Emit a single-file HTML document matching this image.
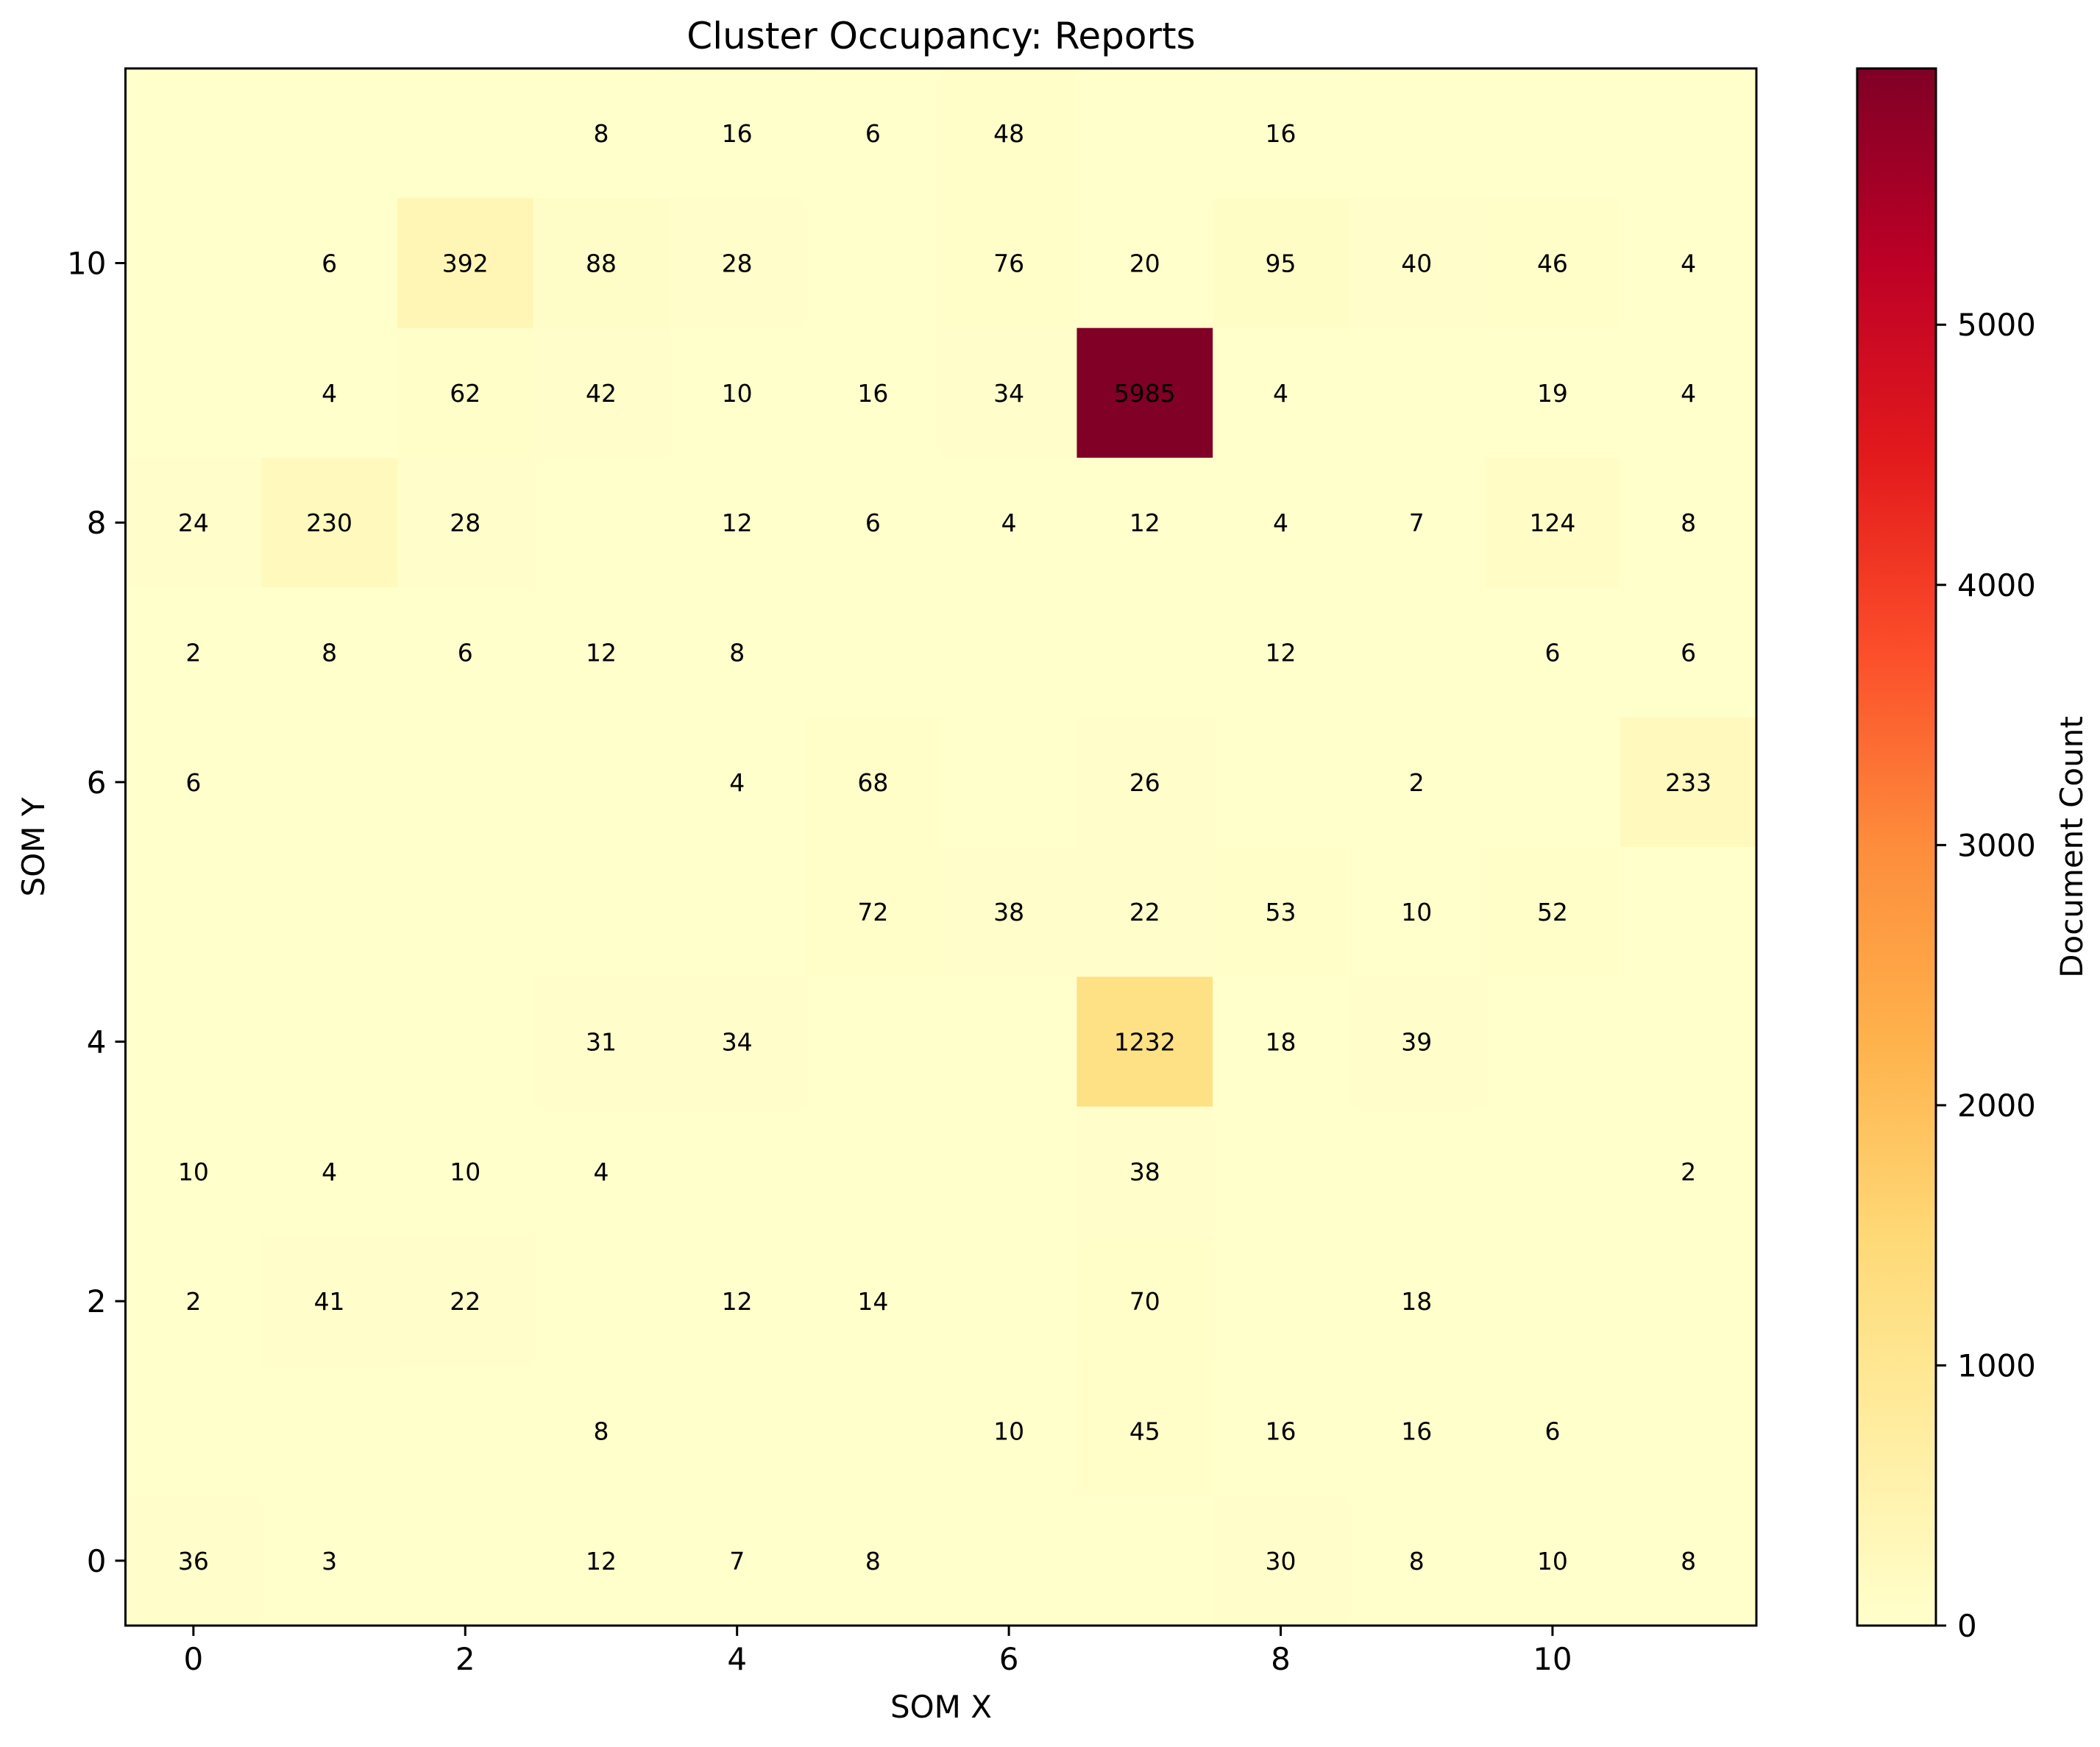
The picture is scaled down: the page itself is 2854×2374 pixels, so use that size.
<!DOCTYPE html>
<html><head><meta charset="utf-8"><style>
html,body{margin:0;padding:0;background:#fff;}
svg text{font-family:"DejaVu Sans","Liberation Sans",sans-serif;}
</style></head><body>
<svg id="chart" xmlns="http://www.w3.org/2000/svg" width="2854" height="2369" viewBox="0 0 2854 2369">
<defs><linearGradient id="cb" x1="0" y1="1" x2="0" y2="0">
<stop offset="0" stop-color="#ffffcc"/><stop offset="0.125" stop-color="#ffeda0"/><stop offset="0.25" stop-color="#fed976"/><stop offset="0.375" stop-color="#feb24c"/><stop offset="0.5" stop-color="#fd8d3c"/><stop offset="0.625" stop-color="#fc4e2a"/><stop offset="0.75" stop-color="#e31a1c"/><stop offset="0.875" stop-color="#bd0026"/><stop offset="1" stop-color="#800026"/>
</linearGradient></defs>
<g id="cells"></g>
<g id="labels"></g>
<rect x="170.5" y="93" width="2216.5" height="2116" fill="none" stroke="#000" stroke-width="3"/>
<g id="axes"></g>
<text x="1279" y="66" font-size="50" text-anchor="middle">Cluster Occupancy: Reports</text>
<text x="1279" y="2334" font-size="42" text-anchor="middle">SOM X</text>
<text x="60" y="1151" font-size="42" text-anchor="middle" transform="rotate(-90 60 1151)">SOM Y</text>
<rect x="2524" y="93" width="107" height="2116" fill="url(#cb)" stroke="#000" stroke-width="3"/>
<g id="cbaxis"></g>
<text x="2830" y="1151" font-size="42" text-anchor="middle" transform="rotate(-90 2830 1151)">Document Count</text>
</svg>
<script>
// rows from y=11 (top) down to y=0; 0 = empty
const rowY = [11,10,9,8,7,6,5,4,3,2,1,0];
const counts = [
[0,0,0,8,16,6,48,0,16,0,0,0],
[0,6,392,88,28,0,76,20,95,40,46,4],
[0,4,62,42,10,16,34,5985,4,0,19,4],
[24,230,28,0,12,6,4,12,4,7,124,8],
[2,8,6,12,8,0,0,0,12,0,6,6],
[6,0,0,0,4,68,0,26,0,2,0,233],
[0,0,0,0,0,72,38,22,53,10,52,0],
[0,0,0,31,34,0,0,1232,18,39,0,0],
[10,4,10,4,0,0,0,38,0,0,0,2],
[2,41,22,0,12,14,0,70,0,18,0,0],
[0,0,0,8,0,0,10,45,16,16,6,0],
[36,3,0,12,7,8,0,0,30,8,10,8]
];
const xTicks = [0,2,4,6,8,10];
const yTicks = [0,2,4,6,8,10];
const cbTicks = [0,1000,2000,3000,4000,5000];

const NS="http://www.w3.org/2000/svg";
const L=170.5,T=93,W=2216.5,H=2116,N=12;
const cw=W/N,ch=H/N;
let vmax=0;counts.forEach(r=>r.forEach(v=>{if(v>vmax)vmax=v;}));
const xs=i=>L+(i+0.5)*cw;
const ys=y=>T+(11-y+0.5)*ch;
const stops=["#ffffcc","#ffeda0","#fed976","#feb24c","#fd8d3c","#fc4e2a","#e31a1c","#bd0026","#800026"].map(h=>[1,3,5].map(k=>parseInt(h.substr(k,2),16)));
function cmap(t){t=Math.max(0,Math.min(1,t))*8;const i=Math.min(7,Math.floor(t)),f=t-i;const a=stops[i],b=stops[i+1];return "rgb("+a.map((v,k)=>Math.round(v+(b[k]-v)*f)).join(",")+")";}
function el(tag,attrs,parent,txt){const e=document.createElementNS(NS,tag);for(const k in attrs)e.setAttribute(k,attrs[k]);if(txt!==undefined)e.textContent=txt;parent.appendChild(e);return e;}
const gc=document.getElementById('cells'),gl=document.getElementById('labels'),ga=document.getElementById('axes'),gb=document.getElementById('cbaxis');
counts.forEach((row,r)=>{const y=rowY[r];row.forEach((v,x)=>{
 const rc=el('rect',{x:L+x*cw,y:T+(11-y)*ch,width:cw+0.6,height:ch+0.6,fill:cmap(v/vmax)},gc);
 
 
 if(v>0){const t=el('text',{x:xs(x),y:ys(y)+12,'font-size':33,'text-anchor':'middle'},gl,String(v));
 
 }
});});
xTicks.forEach(v=>{el('line',{x1:xs(v),x2:xs(v),y1:T+H,y2:T+H+14,stroke:'#000','stroke-width':3},ga);
 const t=el('text',{x:xs(v),y:T+H+60,'font-size':42,'text-anchor':'middle'},ga,String(v));
 
 });
yTicks.forEach(v=>{el('line',{x1:L-14,x2:L,y1:ys(v),y2:ys(v),stroke:'#000','stroke-width':3},ga);
 const t=el('text',{x:L-26,y:ys(v)+15,'font-size':42,'text-anchor':'end'},ga,String(v));
 
 });
cbTicks.forEach(v=>{const yy=T+H-v/vmax*H;el('line',{x1:2631,x2:2645,y1:yy,y2:yy,stroke:'#000','stroke-width':3},gb);
 const t=el('text',{x:2660,y:yy+15,'font-size':42},gb,String(v));
 
 });
</script>
</body></html>
